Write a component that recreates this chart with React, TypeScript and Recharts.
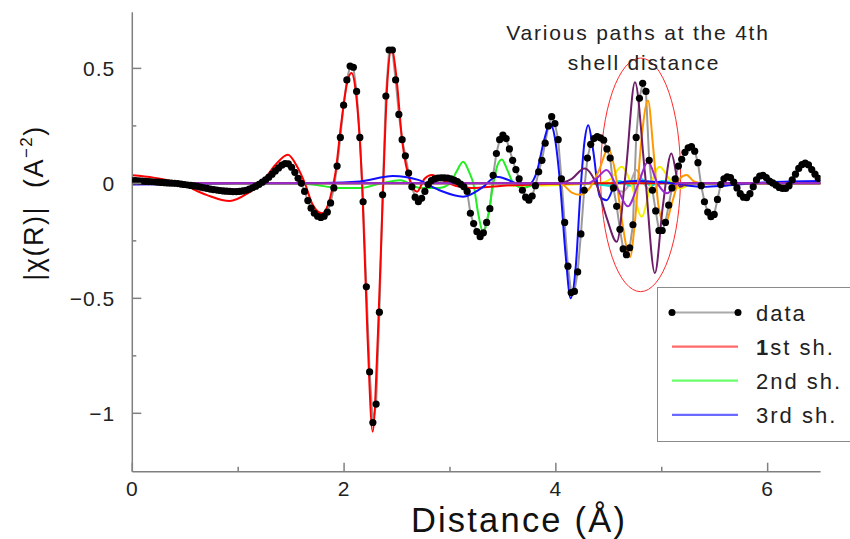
import React from "react";
import { LineChart, Line, XAxis, YAxis, ReferenceArea, Legend } from "recharts";

// Sample spacing of the measured transform (Å)
const DR = 0.0307;

// |chi(R)| data, one value per sample from R = 0
const dataY = [
  0.012, 0.012, 0.011, 0.010, 0.009, 0.008, 0.007, 0.006, 0.005, 0.004,
  0.003, 0.002, 0.001, 0.000, -0.001, -0.003, -0.005, -0.007, -0.009, -0.011,
  -0.013, -0.016, -0.019, -0.022, -0.025, -0.027, -0.029, -0.031, -0.033, -0.034,
  -0.035, -0.036, -0.036, -0.035, -0.033, -0.030, -0.025, -0.019, -0.012, -0.004,
  0.005, 0.015, 0.027, 0.040, 0.054, 0.067, 0.079, 0.086, 0.085, 0.070,
  0.048, 0.022, 0.000, -0.035, -0.075, -0.108, -0.130, -0.143, -0.148, -0.143,
  -0.125, -0.085, -0.020, 0.075, 0.200, 0.340, 0.450, 0.510, 0.505, 0.400,
  0.200, -0.080, -0.450, -0.820, -1.040, -0.960, -0.560, -0.050, 0.380, 0.580,
  0.580, 0.450, 0.300, 0.190, 0.120, 0.045, -0.015, -0.060, -0.080, -0.065,
  -0.035, -0.005, 0.012, 0.020, 0.023, 0.024, 0.024, 0.023, 0.020, 0.014,
  0.008, -0.003, -0.015, -0.035, -0.130, -0.175, -0.210, -0.232, -0.215, -0.170,
  -0.110, 0.035, 0.130, 0.190, 0.210, 0.195, 0.150, 0.100, 0.060, 0.020,
  -0.030, -0.060, -0.073, -0.055, -0.010, 0.050, 0.100, 0.175, 0.250, 0.290,
  0.260, 0.190, 0.020, -0.170, -0.360, -0.475, -0.470, -0.385, -0.220, -0.030,
  0.110, 0.170, 0.195, 0.203, 0.198, 0.188, 0.150, 0.110, -0.020, -0.100,
  -0.200, -0.285, -0.310, -0.280, -0.180, 0.200, 0.370, 0.435, 0.400, 0.100,
  -0.030, -0.120, -0.205, -0.205, -0.170, -0.095, -0.020, 0.020, 0.075, 0.105,
  0.135, 0.155, 0.160, 0.140, 0.090, -0.010, -0.080, -0.125, -0.145, -0.135,
  -0.070, -0.005, 0.020, 0.028, 0.025, 0.005, -0.020, -0.045, -0.060, -0.062,
  -0.045, -0.015, 0.015, 0.032, 0.035, 0.025, 0.010, 0.002, -0.008, -0.018,
  -0.022, -0.022, -0.010, 0.015, 0.040, 0.065, 0.082, 0.088, 0.080, 0.060,
  0.040, 0.022,
];

// Fitted path contributions: [R, chi]
const shell1 = [
  [0, 0.035], [0.2, 0.025], [0.45, 0.0], [0.7, -0.05], [0.92, -0.077], [1.1, -0.04],
  [1.22, 0.0], [1.35, 0.08], [1.47, 0.125], [1.56, 0.07], [1.63, 0.0], [1.7, -0.09],
  [1.79, -0.13], [1.87, -0.06], [1.92, 0.05], [1.97, 0.25], [2.03, 0.44], [2.07, 0.48],
  [2.11, 0.4], [2.17, 0.0], [2.22, -0.65], [2.27, -1.08], [2.32, -0.65], [2.37, 0.0],
  [2.41, 0.45], [2.45, 0.59], [2.49, 0.48], [2.55, 0.18], [2.62, 0.014], [2.69, -0.036],
  [2.76, 0.02], [2.83, 0.036], [2.93, 0.014], [3.05, -0.01], [3.2, -0.02], [3.5, -0.01],
  [3.8, -0.005], [4.3, 0], [6.5, 0],
];
const shell2 = [
  [0, 0], [1.5, 0], [1.7, -0.005], [1.95, -0.02], [2.15, -0.02], [2.35, 0.0], [2.53, 0.014],
  [2.72, -0.02], [2.9, -0.02], [3.0, 0.0], [3.06, 0.05], [3.125, 0.094], [3.18, 0.05],
  [3.22, 0.0], [3.27, -0.14], [3.315, -0.217], [3.36, -0.14], [3.41, 0.0], [3.45, 0.08],
  [3.49, 0.104], [3.54, 0.06], [3.6, 0.0], [3.69, -0.02], [3.8, -0.005], [4.0, 0], [6.5, 0],
];
const shell3 = [
  [0, -0.005], [1.0, 0], [1.8, 0.002], [2.15, 0.008], [2.46, 0.032], [2.7, 0.015], [2.9, -0.03],
  [3.125, -0.058], [3.3, -0.02], [3.44, 0.029], [3.55, 0.015], [3.63, 0.0], [3.755, 0.0],
  [3.82, 0.05], [3.89, 0.19], [3.945, 0.26], [3.99, 0.2], [4.04, 0.0], [4.09, -0.3],
  [4.14, -0.5], [4.19, -0.35], [4.23, -0.05], [4.27, 0.18], [4.306, 0.253], [4.35, 0.15],
  [4.416, -0.058], [4.48, -0.073], [4.57, 0], [4.75, 0.01], [5.0, 0.005], [5.4, -0.015],
  [5.6, -0.01], [6.0, 0.005], [6.5, 0.01],
];
const pathOrange = [
  [0, 0], [3.9, 0], [4.04, 0.0], [4.15, -0.04], [4.23, -0.05], [4.32, -0.02], [4.41, 0.06],
  [4.495, 0.152], [4.56, 0.05], [4.62, -0.15], [4.7, -0.32], [4.75, -0.15], [4.8, 0.15],
  [4.87, 0.36], [4.92, 0.15], [4.97, -0.1], [5.03, -0.18], [5.1, -0.08], [5.17, 0.02],
  [5.235, 0.036], [5.3, 0.01], [5.4, 0.0], [6.5, 0],
];
const pathPlum = [
  [0, 0], [4.0, 0], [4.15, 0.02], [4.27, 0.065], [4.385, -0.007], [4.48, -0.15], [4.575, -0.254],
  [4.66, 0.05], [4.747, 0.44], [4.84, 0.05], [4.935, -0.39], [5.01, -0.1], [5.09, 0.13],
  [5.17, -0.015], [5.25, 0.0], [6.5, 0],
];
const pathViolet = [
  [0, 0], [4.3, 0], [4.38, 0.02], [4.48, 0.058], [4.58, -0.02], [4.68, -0.1], [4.78, 0.0],
  [4.87, 0.094], [4.96, 0.0], [5.05, -0.043], [5.15, 0.0], [6.5, 0],
];
const pathYellow = [
  [0, 0], [3.5, 0], [3.6, -0.01], [3.75, -0.01], [4.4, 0.0], [4.52, 0.02], [4.62, 0.072],
  [4.71, 0.0], [4.81, -0.145], [4.9, 0.0], [4.98, 0.072], [5.07, 0.02], [5.17, -0.022],
  [5.3, 0.0], [6.5, 0],
];
const pathCyan = [
  [0, 0], [4.3, 0], [4.5, -0.01], [4.6, 0.01], [4.7, -0.01], [4.8, 0.02], [4.9, -0.01],
  [5.0, 0.01], [5.2, 0], [6.5, 0],
];
const pathGray = [
  [0, 0], [4.4, 0], [4.55, -0.02], [4.63, -0.036], [4.7, 0.0], [4.76, 0.058], [4.83, 0.0],
  [4.9, -0.03], [5.0, 0.0], [6.5, 0],
];

const xTicks = [0, 1, 2, 3, 4, 5, 6];
const yTicks = [-1, -0.75, -0.5, -0.25, 0, 0.25, 0.5];
const legendLabels = ["data", "1st sh.", "2nd sh.", "3rd sh."];
const annotationLines = ["Various paths at the 4th", "shell distance"];
const ellipseBox = { x1: 4.422, x2: 5.178, y1: -0.471, y2: 0.545 };

const toPts = (arr: number[][]) => arr.map(([x, y]) => ({ x, y }));
const dataPoints = dataY.map((y, i) => ({ x: i * DR, y }));

const FONT = "'Liberation Sans', Arial, Helvetica, sans-serif";
const AXIS = "#808080";

const fmt = (v: number) => (v < 0 ? "\u2212" + String(-v) : String(v));

const BottomTick = (p: any) => {
  const { x, y, payload } = p;
  const v = payload.value;
  const major = v % 2 === 0;
  return (
    <g>
      <line x1={x} x2={x} y1={y} y2={y - (major ? 9 : 5)} stroke={AXIS} strokeWidth={1.5} />
      {major && (
        <text x={x} y={y + 24} textAnchor="middle" fontFamily={FONT} fontSize={21} fill="#222" letterSpacing={1}>
          {fmt(v)}
        </text>
      )}
    </g>
  );
};
const TopTick = (p: any) => {
  const { x, y } = p;
  return <line x1={x} x2={x} y1={y} y2={y + 4} stroke={AXIS} strokeWidth={1.5} />;
};
const LeftTick = (p: any) => {
  const { x, y, payload } = p;
  const v = payload.value;
  const major = Math.abs((v * 2) % 1) < 1e-9;
  return (
    <g>
      <line x1={x} x2={x + (major ? 9 : 4)} y1={y} y2={y} stroke={AXIS} strokeWidth={1.5} />
      {major && (
        <text x={x - 17} y={y + 7.5} textAnchor="end" fontFamily={FONT} fontSize={21} fill="#222" letterSpacing={1}>
          {fmt(v)}
        </text>
      )}
    </g>
  );
};
const RightTick = (p: any) => {
  const { x, y } = p;
  return <line x1={x} x2={x - 4} y1={y} y2={y} stroke={AXIS} strokeWidth={1.5} />;
};

const legendColors = ["#aaaaaa", "#ff6a6a", "#6aff6a", "#6a6aff"];

const LegendBox = () => (
  <div
    style={{
      width: 200,
      height: 155,
      border: "1.5px solid #8a8a8a",
      background: "#fff",
      boxSizing: "border-box",
    }}
  >
    <svg width={200} height={152} style={{ display: "block" }}>
      {legendLabels.map((lab, i) => {
        const cy = 24.5 + i * 34.1;
        return (
          <g key={lab}>
            <line x1={14} x2={80} y1={cy} y2={cy} stroke={legendColors[i]} strokeWidth={2.2} />
            {i === 0 && <circle cx={14} cy={cy} r={3.5} fill="#000" />}
            {i === 0 && <circle cx={80} cy={cy} r={3.5} fill="#000" />}
            <text x={98} y={cy + 8.5} fontFamily={FONT} fontSize={22} fill="#222" letterSpacing={2}>
              {i === 0 ? (
                lab
              ) : (
                <>
                  <tspan fontWeight={i === 1 ? "bold" : "normal"}>{lab.charAt(0)}</tspan>
                  {lab.slice(1)}
                </>
              )}
            </text>
          </g>
        );
      })}
    </svg>
  </div>
);

const EllipseShape = (p: any) => (
  <ellipse
    cx={p.x + p.width / 2}
    cy={p.y + p.height / 2}
    rx={p.width / 2}
    ry={p.height / 2}
    fill="none"
    stroke="#ff2a2a"
    strokeWidth={1}
  />
);

export default function App() {
  return (
    <div style={{ position: "absolute", left: 0, top: 0, width: 850, height: 539, overflow: "hidden", background: "#fff" }}>
      <LineChart width={850} height={539} margin={{ top: 12.3, right: 29.4, bottom: 37.3, left: 0 }}>
        <XAxis
          dataKey="x"
          type="number"
          domain={[0, 6.5]}
          ticks={xTicks}
          interval={0}
          allowDataOverflow
          height={30}
          tickSize={0}
          tickMargin={0}
          tickLine={false}
          axisLine={{ stroke: AXIS, strokeWidth: 1.5 }}
          tick={<BottomTick />}
        />
        <XAxis
          xAxisId="top"
          orientation="top"
          dataKey="x"
          type="number"
          domain={[0, 6.5]}
          ticks={xTicks}
          interval={0}
          height={0}
          tickSize={0}
          tickMargin={0}
          tickLine={false}
          axisLine={{ stroke: AXIS, strokeWidth: 1.5 }}
          tick={<TopTick />}
        />
        <YAxis
          type="number"
          domain={[-1.254, 0.744]}
          ticks={yTicks}
          interval={0}
          allowDataOverflow
          width={132.3}
          tickSize={0}
          tickMargin={0}
          tickLine={false}
          axisLine={{ stroke: AXIS, strokeWidth: 1.5 }}
          tick={<LeftTick />}
        />
        <YAxis
          yAxisId="right"
          orientation="right"
          type="number"
          domain={[-1.254, 0.744]}
          ticks={yTicks}
          interval={0}
          width={0}
          tickSize={0}
          tickMargin={0}
          tickLine={false}
          axisLine={{ stroke: AXIS, strokeWidth: 1.5 }}
          tick={<RightTick />}
        />
        <Line data={dataPoints} dataKey="y" type="linear" stroke="#9a9a9a" strokeWidth={2}
          dot={{ r: 3.6, fill: "#000", stroke: "#000", strokeWidth: 0 }} isAnimationActive={false} legendType="none" />
        <Line data={toPts(pathGray)} dataKey="y" type="monotone" stroke="#b8a4a4" strokeWidth={2} dot={false} isAnimationActive={false} />
        <Line data={toPts(pathCyan)} dataKey="y" type="monotone" stroke="#00e0e0" strokeWidth={2} dot={false} isAnimationActive={false} />
        <Line data={toPts(pathYellow)} dataKey="y" type="monotone" stroke="#f2f200" strokeWidth={2} dot={false} isAnimationActive={false} />
        <Line data={toPts(shell2)} dataKey="y" type="monotone" stroke="#22ee22" strokeWidth={2} dot={false} isAnimationActive={false} />
        <Line data={toPts(shell1)} dataKey="y" type="monotone" stroke="#ff0000" strokeWidth={2} dot={false} isAnimationActive={false} />
        <Line data={toPts(shell3)} dataKey="y" type="monotone" stroke="#1010ff" strokeWidth={2} dot={false} isAnimationActive={false} />
        <Line data={toPts(pathOrange)} dataKey="y" type="monotone" stroke="#ff9900" strokeWidth={2} dot={false} isAnimationActive={false} />
        <Line data={toPts(pathPlum)} dataKey="y" type="monotone" stroke="#6e1e68" strokeWidth={2} dot={false} isAnimationActive={false} />
        <Line data={toPts(pathViolet)} dataKey="y" type="monotone" stroke="#9a2ad0" strokeWidth={2} dot={false} isAnimationActive={false} />
        <ReferenceArea
          x1={ellipseBox.x1}
          x2={ellipseBox.x2}
          y1={ellipseBox.y1}
          y2={ellipseBox.y2}
          shape={<EllipseShape />}
        />
        <Legend
          layout="vertical"
          verticalAlign="middle"
          align="center"
          content={<LegendBox />}
          wrapperStyle={{ left: 657.3, top: 287.3, width: 200, height: 155 }}
        />
      </LineChart>
      <svg
        width={850}
        height={539}
        style={{ position: "absolute", left: 0, top: 0, pointerEvents: "none" }}
      >
        <text x={638} y={39.5} textAnchor="middle" fontFamily={FONT} fontSize={21} fill="#222" letterSpacing={1.8}>
          {annotationLines[0]}
        </text>
        <text x={644} y={70} textAnchor="middle" fontFamily={FONT} fontSize={21} fill="#222" letterSpacing={1.8}>
          {annotationLines[1]}
        </text>
        <text x={519} y={531.5} textAnchor="middle" fontFamily={FONT} fontSize={34.5} fill="#111" letterSpacing={2.2}>
          Distance (Å)
        </text>
        <text
          transform="translate(42.5,203) rotate(-90)"
          textAnchor="middle"
          fontFamily={FONT}
          fontSize={27}
          fill="#111"
          letterSpacing={1.5}
          style={{ whiteSpace: "pre" }}
        >
          {"|χ(R)|  (A"}
          <tspan fontSize={17} dy={-11}>{"\u22122"}</tspan>
          <tspan dy={11}>{")"}</tspan>
        </text>
      </svg>
    </div>
  );
}
